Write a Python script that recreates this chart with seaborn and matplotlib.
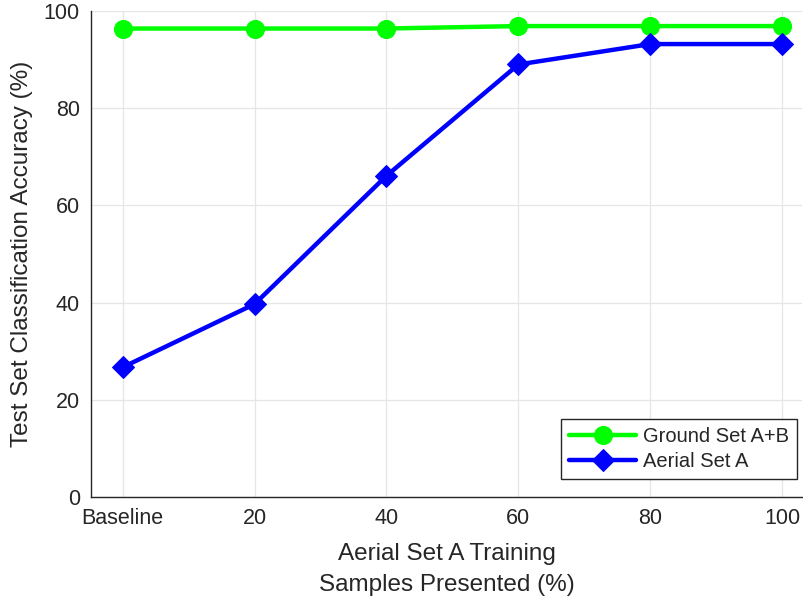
import seaborn as sns
import matplotlib.pyplot as plt
import pandas as pd

# data
x_pos = [0, 20, 40, 60, 80, 100]
x_labels = ["Baseline", "20", "40", "60", "80", "100"]
ground_ab = [96.4, 96.4, 96.4, 96.9, 96.9, 96.9]
aerial_a = [26.7, 39.7, 66.1, 89.0, 93.2, 93.2]

sns.set_style("white")
plt.rcParams['font.family'] = ['Liberation Sans', 'DejaVu Sans']

df = pd.DataFrame({"x": x_pos, "ground": ground_ab, "aerial": aerial_a})

fig = plt.figure(figsize=(8.04, 6.02), dpi=100)
ax = fig.add_axes([0.1132, 0.1744, 0.8843, 0.8073])

sns.lineplot(x="x", y="ground", data=df, color="#00ff00", linewidth=3.2,
             marker="o", markersize=13, markeredgecolor="#00ff00",
             label="Ground Set A+B", ax=ax)
sns.lineplot(x="x", y="aerial", data=df, color="#0000ff", linewidth=3.2,
             marker="D", markersize=11.5, markeredgecolor="#0000ff",
             label="Aerial Set A", ax=ax)

ax.set_xlim(-4.8, 103)
ax.set_ylim(0, 100)
ax.set_xticks(x_pos)
ax.set_xticklabels(x_labels)
ax.set_yticks([0, 20, 40, 60, 80, 100])

ax.grid(True, color="#e6e6e6", linewidth=0.9)
ax.set_axisbelow(True)
for s in ["top", "right"]:
    ax.spines[s].set_visible(False)
for s in ["left", "bottom"]:
    ax.spines[s].set_color("#262626")
    ax.spines[s].set_linewidth(1.0)
ax.tick_params(direction="in", length=5, width=1, colors="#262626",
               labelsize=15.5, labelcolor="#262626", pad=8)

ax.set_xlabel("Aerial Set A Training\nSamples Presented (%)", fontsize=17.5,
              color="#262626", labelpad=10, linespacing=1.5)
ax.set_ylabel("Test Set Classification Accuracy (%)", fontsize=17.5,
              color="#262626", labelpad=8)

leg = ax.legend(loc="lower right", bbox_to_anchor=(0.9913, 0.2043),
                bbox_transform=fig.transFigure, borderaxespad=0,
                fontsize=14.5, frameon=True, fancybox=False,
                edgecolor="#262626", framealpha=1, borderpad=0.4,
                handlelength=3.3, labelspacing=0.3, handletextpad=0.35)
leg.get_frame().set_linewidth(1.0)

plt.savefig("out.png", dpi=100)
